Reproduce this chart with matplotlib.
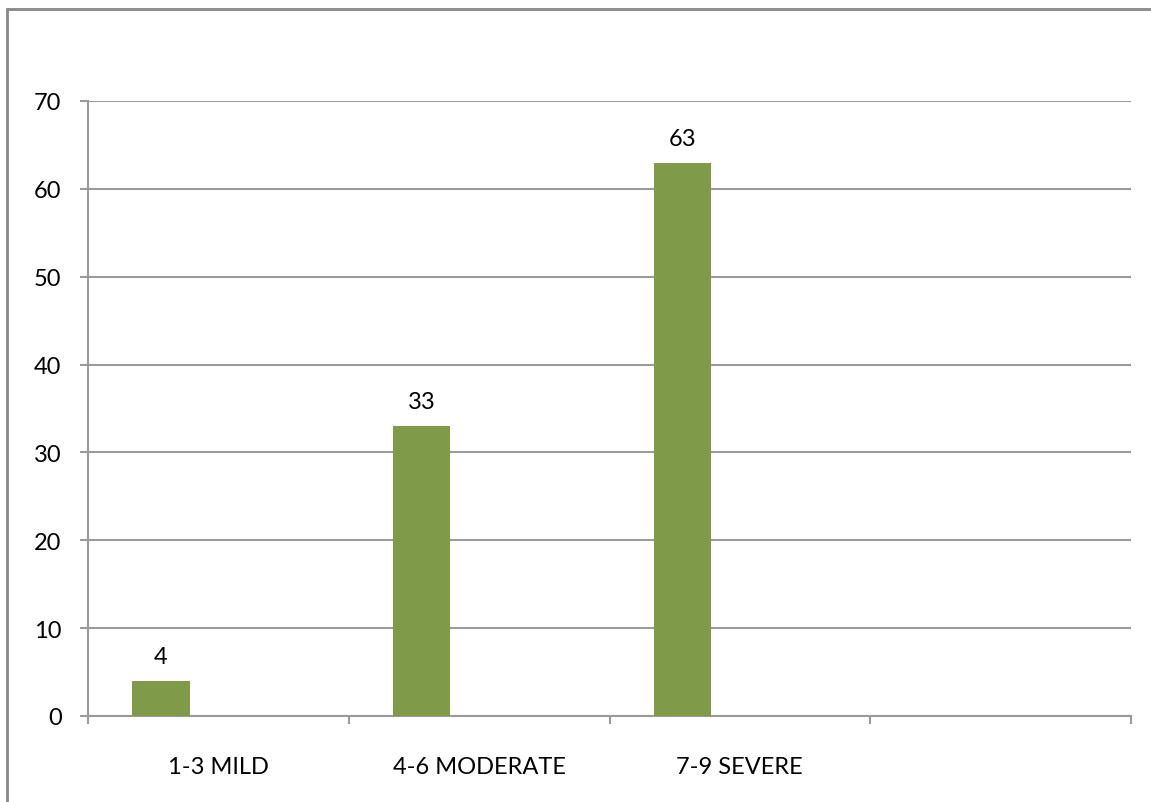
import matplotlib
matplotlib.use("Agg")
import matplotlib.pyplot as plt
from matplotlib.patches import Rectangle

categories = ["1-3 MILD", "4-6 MODERATE", "7-9 SEVERE", ""]
values = [4, 33, 63]
yticks = [0, 10, 20, 30, 40, 50, 60, 70]

plt.rcParams["font.family"] = ["Lato", "DejaVu Sans"]

W, H = 1151, 803
fg = plt.figure(figsize=(W / 100, H / 100), dpi=100)
ax = fg.add_axes([88 / W, (H - 717) / H, (1131 - 88) / W, (717 - 102) / H])

grey = "#9a9a9a"
green = "#7f9a48"
fs = 17

xs = list(range(len(values)))
bar_w = 0.22
bars = ax.bar([x - 0.22 for x in xs], values, width=bar_w, color=green, zorder=3)
for b, v in zip(bars, values):
    ax.annotate(str(v), (b.get_x() + b.get_width() / 2, v), xytext=(0, 10),
                textcoords="offset points", ha="center", va="bottom", fontsize=fs)

ax.set_xlim(-0.5, len(categories) - 0.5)
ax.set_ylim(0, 70)
ax.set_yticks(yticks)
ax.set_xticks(range(len(categories)))
ax.set_xticklabels(categories)
ax.set_xticks([i - 0.5 for i in range(len(categories) + 1)], minor=True)
ax.tick_params(axis="x", which="major", length=0, pad=29, labelsize=fs)
ax.tick_params(axis="x", which="minor", length=6, color=grey, width=1.5, direction="out")
ax.tick_params(axis="y", length=6, color=grey, width=1.5, pad=13, labelsize=fs)

ax.yaxis.grid(True, color=grey, linewidth=1.5, zorder=0)
ax.set_axisbelow(True)
for s in ("top", "right"):
    ax.spines[s].set_visible(False)
for s in ("left", "bottom"):
    ax.spines[s].set_color(grey)
    ax.spines[s].set_linewidth(1.5)

# outer chart frame
fg.patches.append(Rectangle((7 / W, -0.1), 1.2, (H - 10) / H + 0.1,
                            transform=fg.transFigure, fill=False,
                            edgecolor="#888888", linewidth=2))

fg.savefig("out.png", dpi=100)
